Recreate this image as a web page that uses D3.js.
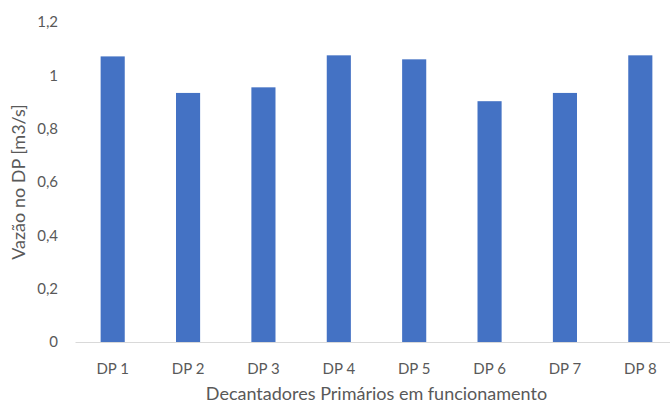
<!DOCTYPE html>
<html>
<head>
<meta charset="utf-8">
<script src="https://cdn.jsdelivr.net/npm/d3@7"></script>
<style>
  html, body { margin: 0; padding: 0; background: #fff; }
  svg { display: block; }
  text { font-family: Lato, "Open Sans", sans-serif; fill: #595959; }
</style>
</head>
<body>
<div id="chart"></div>
<script>
// Flow rate per primary settling tank
const categories = ["DP 1", "DP 2", "DP 3", "DP 4", "DP 5", "DP 6", "DP 7", "DP 8"];
const flowValues = [1.071, 0.934, 0.955, 1.075, 1.060, 0.903, 0.934, 1.075];
const yTicks = [0, 0.2, 0.4, 0.6, 0.8, 1, 1.2];
const yTickLabels = ["0", "0,2", "0,4", "0,6", "0,8", "1", "1,2"];
const xTitle = "Decantadores Primários em funcionamento";
const yTitle = "Vazão no DP [m3/s]";

const width = 670, height = 403;
const plot = { left: 75, right: 678, top: 22, bottom: 342 };

const svg = d3.select("#chart").append("svg")
  .attr("width", width).attr("height", height);

const x = d3.scaleBand()
  .domain(categories)
  .range([plot.left, plot.right])
  .paddingInner(0.68)
  .paddingOuter(0.34);

const y = d3.scaleLinear()
  .domain([0, 1.2])
  .range([plot.bottom, plot.top]);

// Bars
svg.append("g")
  .selectAll("rect")
  .data(categories.map((c, i) => ({ c, v: flowValues[i] })))
  .join("rect")
  .attr("x", d => x(d.c))
  .attr("y", d => y(d.v))
  .attr("width", x.bandwidth())
  .attr("height", d => y(0) - y(d.v))
  .attr("fill", "#4472c4");

// Category axis
const xAxis = svg.append("g")
  .attr("transform", `translate(0,${plot.bottom})`)
  .call(d3.axisBottom(x).tickSize(0).tickPadding(21));
xAxis.select(".domain").attr("stroke", "#d9d9d9").attr("stroke-width", 1);
xAxis.selectAll("text").attr("font-size", 15).style("fill", "#595959")
  .style("font-family", "Lato, sans-serif");

// Value axis (labels only)
const yAxis = svg.append("g")
  .attr("transform", `translate(${plot.left},0)`)
  .call(d3.axisLeft(y).tickValues(yTicks).tickSize(0).tickPadding(17)
    .tickFormat((d, i) => yTickLabels[i]));
yAxis.select(".domain").remove();
yAxis.selectAll("text").attr("font-size", 15).style("fill", "#595959")
  .style("font-family", "Lato, sans-serif");

// Axis titles
svg.append("text")
  .attr("x", (plot.left + plot.right) / 2)
  .attr("y", 400)
  .attr("text-anchor", "middle")
  .attr("font-size", 18)
  .text(xTitle);

svg.append("text")
  .attr("transform", `translate(25,${(plot.top + plot.bottom) / 2}) rotate(-90)`)
  .attr("text-anchor", "middle")
  .attr("font-size", 18)
  .text(yTitle);
</script>
</body>
</html>
